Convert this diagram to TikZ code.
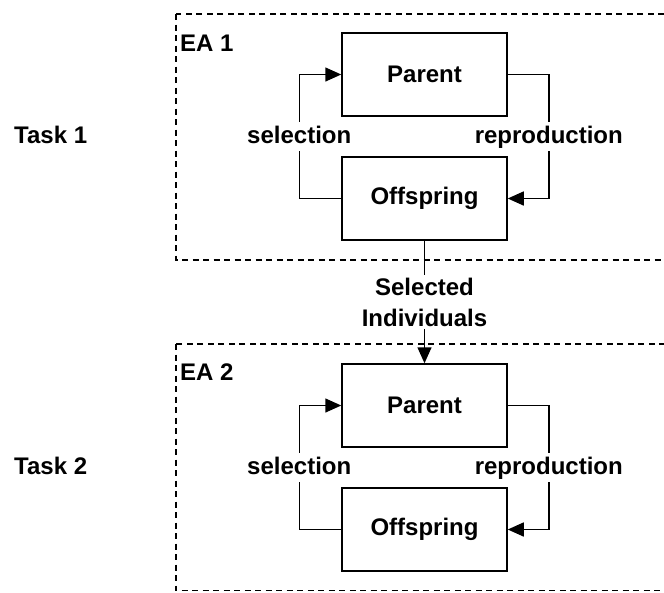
\documentclass[tikz,border=0pt]{standalone}
\usepackage{fontspec}
\setmainfont{Liberation Sans}
\usetikzlibrary{arrows.meta}
\begin{document}
\begin{tikzpicture}[x=1pt,y=-1pt,
  box/.style={draw, line width=1.5pt, minimum width=165pt, minimum height=83pt, inner sep=0pt, font=\fontsize{24}{28}\selectfont\bfseries},
  lbl/.style={font=\fontsize{24}{31}\selectfont\bfseries, fill=white, inner sep=3pt},
  looplbl/.style={lbl, text height=18pt, text depth=5pt},
  plain/.style={font=\fontsize{24}{28}\selectfont\bfseries, inner sep=0pt, anchor=west},
  conn/.style={line width=1.5pt, -{Triangle[length=16pt,width=14pt]}},
  region/.style={draw, dash pattern=on 6pt off 4.5pt, line width=1.5pt}]
\useasboundingbox (0,0) rectangle (664,592);
% regions
\draw[region] (176,14) rectangle (720,260);
\draw[region] (176,344) rectangle (720,590.5);
% labels
\node[plain] (ea1) at (180,43) {EA 1};
\node[plain] (ea2) at (180,372) {EA 2};
\node[plain] (t1) at (14,135) {Task 1};
\node[plain] (t2) at (14,466) {Task 2};
% boxes
\node[box] (p1) at (424.5,74.5) {Parent};
\node[box] (o1) at (424.5,198.5) {Offspring};
\node[box] (p2) at (424.5,405.5) {Parent};
\node[box] (o2) at (424.5,529.5) {Offspring};
% loops
\draw[conn] (o1.west) -- ++(-42,0) |- node[looplbl,pos=0.25] {selection} (p1.west);
\draw[conn] (p1.east) -- ++(41,0) |- node[looplbl,pos=0.25] {reproduction} (o1.east);
\draw[conn] (o2.west) -- ++(-42,0) |- node[looplbl,pos=0.25] {selection} (p2.west);
\draw[conn] (p2.east) -- ++(41,0) |- node[looplbl,pos=0.25] {reproduction} (o2.east);
% transfer
\draw[conn] (o1.south) -- node[lbl,align=center] {Selected\\Individuals} (p2.north);
\end{tikzpicture}
\end{document}
